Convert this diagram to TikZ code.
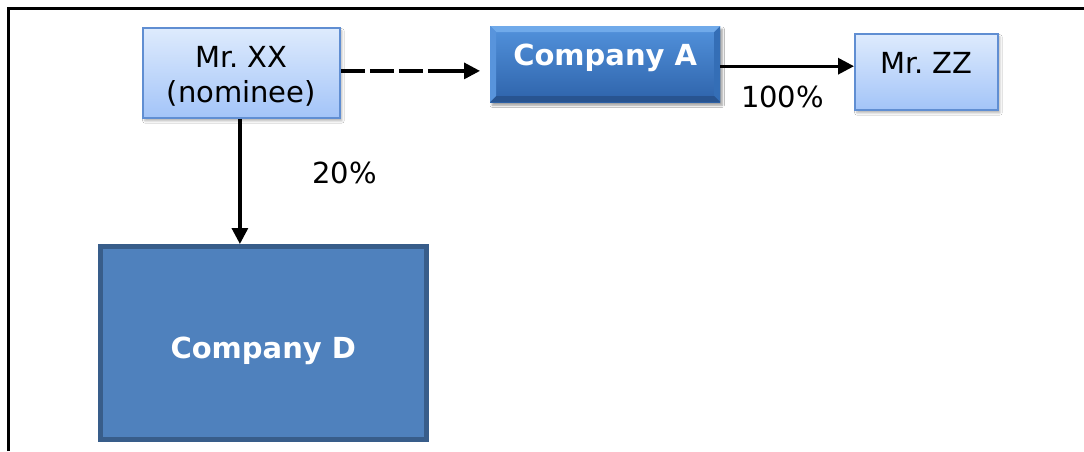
\documentclass[tikz,border=0pt]{standalone}
\usepackage{fontspec}
\setmainfont{DejaVu Sans}
\frenchspacing
\usetikzlibrary{arrows.meta,shadows.blur}
\definecolor{lborder}{RGB}{96,142,210}
\definecolor{ltop}{RGB}{222,235,253}
\definecolor{lbot}{RGB}{163,196,248}
\definecolor{atop}{RGB}{82,146,220}
\definecolor{abot}{RGB}{46,99,170}
\definecolor{bevtopc}{RGB}{112,170,234}
\definecolor{bevleftc}{RGB}{88,148,220}
\definecolor{bevrightc}{RGB}{52,110,182}
\definecolor{bevbotc}{RGB}{40,84,144}
\definecolor{dfill}{RGB}{79,129,189}
\definecolor{dborder}{RGB}{56,93,138}
\def\bb{path picture bounding box}
\tikzset{
  every node/.style={font=\fontsize{29}{35}\selectfont, inner sep=0pt},
  lightbox/.style={draw=lborder, line width=1.8pt, top color=ltop, bottom color=lbot,
    blur shadow={shadow xshift=2pt, shadow yshift=-3pt, shadow blur steps=6, shadow opacity=30}},
  bevelbox/.style={draw=none, top color=atop, bottom color=abot, text=white, font=\fontsize{29}{35}\selectfont\bfseries,
    blur shadow={shadow xshift=2pt, shadow yshift=-3pt, shadow blur steps=6, shadow opacity=40},
    path picture={
      \fill[bevtopc] (\bb.north west) -- (\bb.north east) -- ([shift={(-6pt,-6pt)}]\bb.north east) -- ([shift={(6pt,-6pt)}]\bb.north west) -- cycle;
      \fill[bevleftc] (\bb.north west) -- ([shift={(6pt,-6pt)}]\bb.north west) -- ([shift={(6pt,6pt)}]\bb.south west) -- (\bb.south west) -- cycle;
      \fill[bevrightc] (\bb.north east) -- ([shift={(-6pt,-6pt)}]\bb.north east) -- ([shift={(-6pt,6pt)}]\bb.south east) -- (\bb.south east) -- cycle;
      \fill[bevbotc] (\bb.south west) -- ([shift={(6pt,6pt)}]\bb.south west) -- ([shift={(-6pt,6pt)}]\bb.south east) -- (\bb.south east) -- cycle;
    }},
  darkbox/.style={draw=dborder, line width=4.5pt, fill=dfill, text=white, font=\fontsize{29}{35}\selectfont\bfseries},
  conn/.style={line width=3.2pt, -{Triangle[length=16pt,width=16pt]}},
  dashconn/.style={conn, dash pattern=on 24pt off 5pt on 24pt off 5pt on 24pt off 5pt on 80pt off 0pt},
  pct/.style={anchor=base}
}
\begin{document}
\begin{tikzpicture}[x=1pt,y=-1pt]
\useasboundingbox (0,0) rectangle (1084,451);
\fill[white] (0,0) rectangle (1084,451);
% frame
\draw[line width=3pt] (8,451) -- (8,8) -- (1084,8);
% nodes
\node[lightbox, anchor=north west, minimum width=197pt, text height=75pt, text depth=15pt] (xx) at (142,27)
  {\begin{tabular}[b]{@{}c@{}}Mr. XX\\(nominee)\end{tabular}};
\node[bevelbox, anchor=north west, minimum width=230pt, text height=39pt, text depth=37pt] (a) at (490,26) {Company A};
\node[lightbox, anchor=north west, minimum width=143pt, text height=40pt, text depth=36pt] (zz) at (854,33) {Mr. ZZ};
\node[darkbox, anchor=north west, minimum width=326pt, text height=112pt, text depth=81pt] (d) at (98,244) {Company D};
% connectors
\draw[dashconn, shorten >=10pt] ([yshift=2pt]xx.east) -- ([yshift=2pt]xx.east -| a.west);
\draw[conn] ([yshift=-2pt]a.east) -- ([yshift=-2pt]a.east -| zz.west);
\draw[conn] ([xshift=-1.5pt]xx.south) -- ([xshift=-1.5pt]xx.south |- d.north);
% labels
\node[pct] (l100) at (782.5,107) {100\%};
\node[pct] (l20) at (344.5,183) {20\%};
\end{tikzpicture}
\end{document}
